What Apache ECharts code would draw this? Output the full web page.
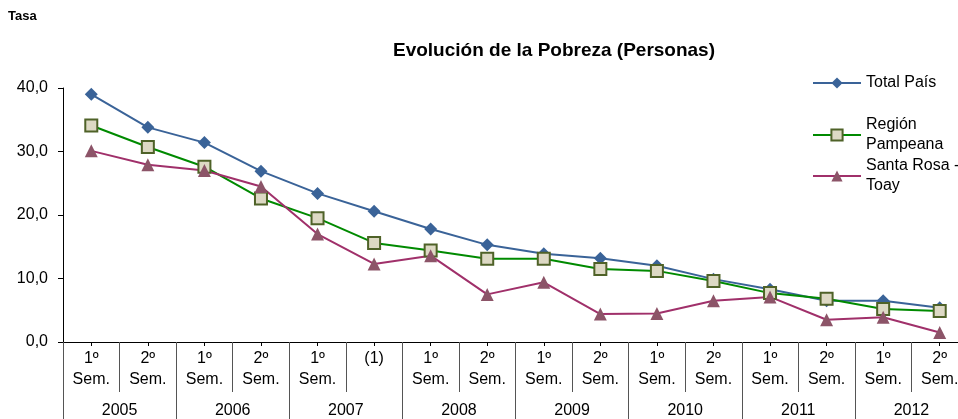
<!DOCTYPE html>
<html>
<head>
<meta charset="utf-8">
<script src="https://cdn.jsdelivr.net/npm/echarts@6/dist/echarts.min.js"></script>
<style>
html,body{margin:0;padding:0;background:#fff;overflow:hidden;width:958px;height:419px;}
#chart{width:970px;height:419px;}
</style>
</head>
<body>
<div id="chart"></div>
<script>
var semesters = ["1º\nSem.","2º\nSem.","1º\nSem.","2º\nSem.","1º\nSem.","(1)","1º\nSem.","2º\nSem.","1º\nSem.","2º\nSem.","1º\nSem.","2º\nSem.","1º\nSem.","2º\nSem.","1º\nSem.","2º\nSem."];
var years = ["2005","2006","2007","2008","2009","2010","2011","2012"];
var yTicks = [0,10,20,30,40];
var totalPais = [39.0,33.8,31.4,26.9,23.4,20.6,17.8,15.3,13.9,13.2,12.0,9.9,8.3,6.5,6.5,5.4];
var regionPampeana = [34.1,30.7,27.6,22.6,19.5,15.6,14.4,13.1,13.1,11.5,11.2,9.6,7.7,6.8,5.2,4.9];
var santaRosaToay = [30.1,27.9,27.0,24.5,17.0,12.3,13.6,7.5,9.4,4.4,4.5,6.5,7.1,3.5,3.9,1.5];

var FONT = '"Liberation Sans", Arial, sans-serif';
var chart = echarts.init(document.getElementById('chart'), null, {renderer:'canvas'});
var grid = {left:63, top:88, width:905, height:254, containLabel:false};
var legendBase = {orient:'vertical', left:807, itemWidth:48, itemHeight:14, itemGap:0,
  textStyle:{fontFamily:FONT, fontSize:16, color:'#000', lineHeight:20}, selectedMode:false};
var option = {
  animation:false,
  backgroundColor:'#fff',
  title:[
    {text:'Tasa', left:3, top:5, textStyle:{fontFamily:FONT, fontSize:13, fontWeight:'bold', color:'#000'}},
    {text:'Evolución de la Pobreza (Personas)', left:549, top:36, textAlign:'center', textStyle:{fontFamily:FONT, fontSize:19, fontWeight:'bold', color:'#000'}}
  ],
  legend:[
    Object.assign({}, legendBase, {top:68, data:['Total País']}),
    Object.assign({}, legendBase, {top:110, data:['Región\nPampeana']}),
    Object.assign({}, legendBase, {top:151, data:['Santa Rosa -\nToay']})
  ],
  grid:[grid],
  xAxis:[
    {type:'category', data:semesters, gridIndex:0, boundaryGap:true, position:'bottom',
     axisLine:{show:true, lineStyle:{color:'#000', width:1}},
     axisTick:{show:true, interval:0, length:50, lineStyle:{color:'#555', width:1}},
     axisLabel:{interval:0, fontFamily:FONT, fontSize:16, color:'#000', lineHeight:21, margin:6},
     splitLine:{show:false}},
    {type:'category', data:years, gridIndex:0, boundaryGap:true, position:'bottom',
     axisLine:{show:false},
     axisTick:{show:true, interval:0, length:77, lineStyle:{color:'#555', width:1}},
     axisLabel:{interval:0, fontFamily:FONT, fontSize:16, color:'#000', margin:61},
     splitLine:{show:false}},
    {type:'category', data:semesters, gridIndex:0, boundaryGap:true, position:'bottom',
     axisLine:{show:false},
     axisTick:{show:true, interval:0, alignWithLabel:true, length:4, lineStyle:{color:'#000', width:1}},
     axisLabel:{show:false}, splitLine:{show:false}}
  ],
  yAxis:[{type:'value', min:0, max:40, interval:10,
    axisLine:{show:true, lineStyle:{color:'#000', width:1}},
    axisTick:{show:true, length:5, lineStyle:{color:'#000'}},
    axisLabel:{fontFamily:FONT, fontSize:16, color:'#000', margin:15,
      formatter:function(v){ return yTicks.indexOf(v) >= 0 ? v.toFixed(1).replace('.', ',') : ''; }},
    splitLine:{show:false}}],
  series:[
    {name:'Total País', type:'line', data:totalPais, xAxisIndex:0,
     symbol:'diamond', symbolSize:13,
     lineStyle:{color:'#3A6398', width:2},
     itemStyle:{color:'#3A6398', borderColor:'#3A6398', borderWidth:0}},
    {name:'Región\nPampeana', type:'line', data:regionPampeana, xAxisIndex:0,
     symbol:'rect', symbolSize:12,
     lineStyle:{color:'#008A00', width:2},
     itemStyle:{color:'#DDD9C4', borderColor:'#4F6228', borderWidth:2}},
    {name:'Santa Rosa -\nToay', type:'line', data:santaRosaToay, xAxisIndex:0,
     symbol:'triangle', symbolSize:13,
     lineStyle:{color:'#A0306A', width:2},
     itemStyle:{color:'#8C5468', borderColor:'#8C5468', borderWidth:0}}
  ]
};
chart.setOption(option);
</script>
</body>
</html>
